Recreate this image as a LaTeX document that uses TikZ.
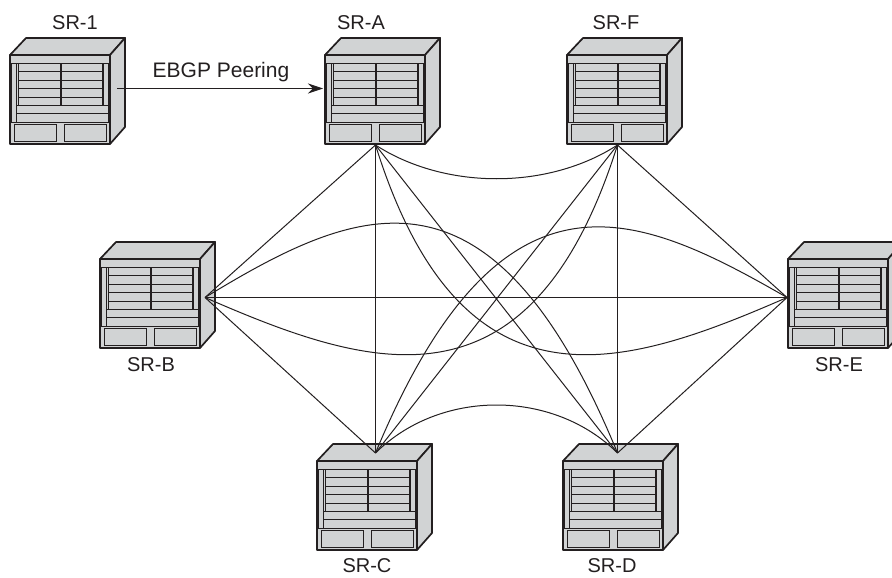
\documentclass[tikz,border=0pt]{standalone}
\usepackage{fontspec}
\setmainfont{Liberation Sans}
\usetikzlibrary{arrows.meta}
\definecolor{ink}{HTML}{231F20}
\definecolor{metal}{HTML}{D1D3D4}
\tikzset{
  x=1pt,y=-1pt,
  outer/.style={draw=ink,fill=metal,line width=1.7pt,line join=round},
  inner/.style={draw=ink,fill=metal,line width=1pt},
  divider/.style={draw=ink,line width=1.5pt},
  link/.style={draw=ink,line width=1pt},
  peering/.style={draw=ink,line width=1pt,-{Stealth[length=15pt,width=10pt]}},
  tag/.style={font=\fontsize{20}{22}\selectfont,text=ink,inner sep=0pt},
  peertag/.style={font=\fontsize{21}{23}\selectfont,text=ink,inner sep=0pt},
  router/.pic={
    \path[outer] (0,0) -- (16,-17) -- (115,-17) -- (100,0) -- cycle;
    \path[outer] (100,0) -- (115,-17) -- (115,72) -- (100,89) -- cycle;
    \path[outer] (0,0) rectangle (100,89);
    \draw[divider] (0,8.5) -- (100,8.5);
    \path[inner] (1.5,8.5) rectangle (6.5,67.5);
    \path[inner] (93.5,8.5) rectangle (98.5,50.5);
    \foreach \r/\s in {8.5/16.5,16.5/25.5,25.5/33.5,33.5/42.5,42.5/50.5}{
      \path[inner,line width=1.5pt] (8.5,\r) rectangle (50.5,\s);
      \path[inner,line width=1.5pt] (50.5,\r) rectangle (92.5,\s);
    }
    \draw[divider,line width=2pt] (50.5,8.5) -- (50.5,50.5);
    \path[inner] (6.5,50.5) rectangle (98.5,58.5);
    \path[inner] (6.5,58.5) rectangle (98.5,67.5);
    \draw[divider] (0,67.5) -- (100,67.5);
    \path[inner] (4.5,69.5) rectangle (46.5,86.5);
    \path[inner] (54.5,69.5) rectangle (96.5,86.5);
  }
}
\begin{document}
\begin{tikzpicture}
\useasboundingbox (0,0) rectangle (892,578);
% hubs
\coordinate (A) at (375.5,145);
\coordinate (F) at (617.5,145);
\coordinate (B) at (205,297.5);
\coordinate (E) at (787,297.5);
\coordinate (C) at (375.5,453);
\coordinate (D) at (617.5,453);
\coordinate (oneport) at (117,88.5);
\coordinate (aport) at (323,88.5);
% routers
\pic at (10,55) {router};
\pic at (325,55) {router};
\pic at (567,55) {router};
\pic at (100,259) {router};
\pic at (788,259) {router};
\pic at (317,461) {router};
\pic at (563,461) {router};
% labels
\node[tag] (l1) at (75,23) {SR-1};
\node[tag] (lA) at (361,23) {SR-A};
\node[tag] (lF) at (616,23) {SR-F};
\node[tag] (lB) at (151,365) {SR-B};
\node[tag] (lE) at (839,365) {SR-E};
\node[tag] (lC) at (367,566) {SR-C};
\node[tag] (lD) at (612,566) {SR-D};
\node[peertag] (peerlabel) at (221,72) {EBGP Peering};
\draw[peering] (oneport) -- (aport);
% straight links
\draw[link] (A) -- (B);
\draw[link] (A) -- (C);
\draw[link] (A) -- (D);
\draw[link] (F) -- (C);
\draw[link] (F) -- (D);
\draw[link] (F) -- (E);
\draw[link] (B) -- (E);
\draw[link] (B) -- (C);
\draw[link] (E) -- (D);
% curved links
\draw[link] (A) .. controls (445,190) and (548,190) .. (F);
\draw[link] (C) .. controls (440,389) and (553,389) .. (D);
\draw[link] (B) .. controls (357,205) and (491,146) .. (D);
\draw[link] (E) .. controls (635,210) and (501,151) .. (C);
\draw[link] (B) .. controls (369,369) and (530,422) .. (F);
\draw[link] (E) .. controls (623,369) and (462,422) .. (A);
\end{tikzpicture}
\end{document}
